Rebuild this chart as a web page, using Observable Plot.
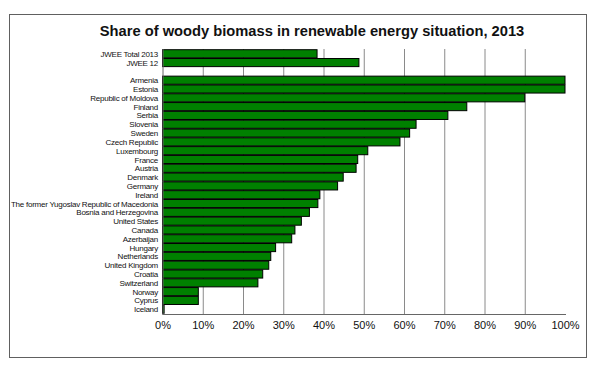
<!DOCTYPE html>
<html>
<head>
<meta charset="utf-8">
<script src="https://cdn.jsdelivr.net/npm/d3@7"></script>
<script src="https://cdn.jsdelivr.net/npm/@observablehq/plot@0.6"></script>
<style>
  html, body { margin: 0; padding: 0; background: #fff; }
  #wrap { position: relative; width: 600px; height: 371px; overflow: hidden; font-family: "Liberation Sans", Arial, sans-serif; }
  #frame { position: absolute; left: 9px; top: 14px; width: 576px; height: 342px; border: 1px solid #606060; box-sizing: content-box; pointer-events: none; }
  #title { position: absolute; left: 0; top: 0; width: 600px; height: 40px; text-align: center; padding-left: 24px; box-sizing: border-box; font-weight: bold; font-size: 14.7px; line-height: 15px; padding-top: 24px; color: #111; }
  #chart { position: absolute; left: 0; top: 40px; }
  #chart svg .y-lab text { letter-spacing: -0.25px; }
</style>
</head>
<body>
<div id="wrap">
  <div id="title">Share of woody biomass in renewable energy situation, 2013</div>
  <div id="chart"></div>
  <div id="frame"></div>
</div>
<script>
const categories = [
  "JWEE Total 2013", "JWEE 12", "",
  "Armenia", "Estonia", "Republic of Moldova", "Finland", "Serbia", "Slovenia",
  "Sweden", "Czech Republic", "Luxembourg", "France", "Austria", "Denmark",
  "Germany", "Ireland", "The former Yugoslav Republic of Macedonia",
  "Bosnia and Herzegovina", "United States", "Canada", "Azerbaijan", "Hungary",
  "Netherlands", "United Kingdom", "Croatia", "Switzerland", "Norway", "Cyprus", "Iceland"
];
const values = [
  38.4, 48.8, null,
  100, 100, 90, 75.6, 70.9, 63, 61.4, 59, 51, 48.5, 48.1, 44.9,
  43.5, 39.1, 38.6, 36.5, 34.5, 32.9, 32.1, 28.1, 26.9, 26.4, 24.9, 23.7,
  8.9, 8.9, 0.4
];
const xTicks = [0, 10, 20, 30, 40, 50, 60, 70, 80, 90, 100];
const gridTicks = [10, 20, 30, 40, 50, 60, 70, 80, 90];

const data = categories.map((c, i) => ({name: c, value: values[i]})).filter(d => d.value != null);

const chart = Plot.plot({
  width: 600,
  height: 331,
  marginTop: 9,
  marginBottom: 57,
  marginLeft: 162.5,
  marginRight: 35,
  style: {fontFamily: "'Liberation Sans', Arial, sans-serif", color: "#111", background: "transparent"},
  x: {domain: [0, 100], ticks: xTicks, label: null},
  y: {domain: categories, padding: 0.08, align: 0.5, round: false, label: null},
  marks: [
    Plot.gridX(gridTicks, {stroke: "#8a8a8a", strokeOpacity: 1, strokeWidth: 1}),
    Plot.barX(data, {x: "value", y: "name", fill: "#008000", stroke: "#000", strokeWidth: 1}),
    Plot.frame({anchor: "left", stroke: "#666"}),
    Plot.frame({anchor: "bottom", stroke: "#666"}),
    Plot.axisY({tickSize: 0, tickPadding: 5, fontSize: 8, className: "y-lab", label: null, tickFormat: d => d}),
    Plot.axisX({ticks: xTicks, tickSize: 0, tickPadding: 7, fontSize: 11, label: null, tickFormat: d => d + "%"})
  ]
});
document.getElementById("chart").appendChild(chart);
</script>
</body>
</html>
